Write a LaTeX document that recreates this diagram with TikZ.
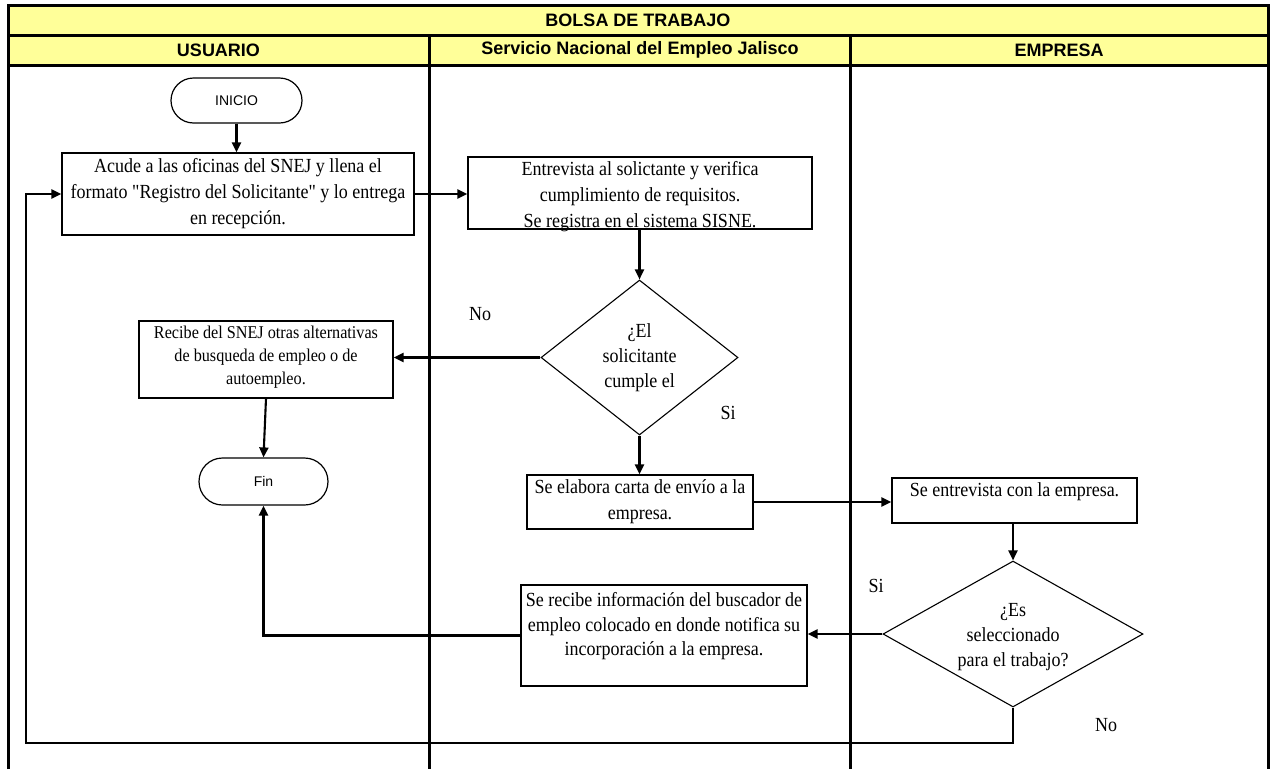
\documentclass[tikz,border=0pt]{standalone}
\usepackage{fontspec}
\usetikzlibrary{arrows.meta,shapes.geometric,shapes.misc}
\newfontfamily\tnr{Liberation Serif}[FakeStretch=0.9]
\newfontfamily\arl{Liberation Sans}
\definecolor{hdr}{HTML}{FFFF99}
\tikzset{
  frameline/.style={line width=3pt},
  boxnode/.style={draw, line width=1.2pt, rectangle, inner sep=0pt},
  termnode/.style={draw, line width=1.2pt, rounded rectangle, inner sep=0pt, font=\arl\fontsize{14}{16}\selectfont},
  decnode/.style={draw, line width=1.1pt, diamond, inner sep=0pt},
  btext/.style={align=center, inner sep=0pt, font=\tnr\fontsize{20}{26}\selectfont},
  stext/.style={align=center, inner sep=0pt, font=\tnr\fontsize{18}{23}\selectfont},
  dtext/.style={align=center, inner sep=0pt, font=\tnr\fontsize{20}{25}\selectfont},
  lbl/.style={inner sep=0pt, font=\tnr\fontsize{20}{24}\selectfont},
  htext/.style={inner sep=0pt, font=\arl\bfseries\fontsize{18}{20}\selectfont},
  arr/.style={line width=2.1pt, -{Triangle[length=10pt,width=9pt]}}
}
\begin{document}
\begin{tikzpicture}[x=1pt,y=-1pt]
\useasboundingbox (0,0) rectangle (1270,769);
% header bands
\fill[hdr] (8,5) rectangle (1268,65);
\draw[frameline] (8,769) -- (8,5) -- (1268,5) -- (1268,769);
\draw[frameline] (8,35) -- (1268,35);
\draw[frameline] (8,65) -- (1268,65);
\draw[frameline] (429,35) -- (429,769);
\draw[frameline] (850,35) -- (850,769);
\node[htext] (h0) at (638,20) {BOLSA DE TRABAJO};
\node[htext] (h1) at (218.5,50) {USUARIO};
\node[htext] (h2) at (640,50) {Servicio Nacional del Empleo Jalisco};
\node[htext] (h3) at (1059,50) {EMPRESA};

% nodes
\node[termnode, minimum width=131, minimum height=45] (ini) at (236.5,100.5) {INICIO};
\node[boxnode, minimum width=352, minimum height=82] (b1) at (238,194) {};
\node[btext] (t1) at (238,194) {Acude a las oficinas del SNEJ y llena el\\formato "Registro del Solicitante" y lo entrega\\en recepción.};
\node[boxnode, minimum width=344, minimum height=72] (b2) at (640,193) {};
\node[btext] (t2) at (640,197) {Entrevista al solictante y verifica\\cumplimiento de requisitos.\\Se registra en el sistema SISNE.};
\node[decnode, minimum width=197, minimum height=155] (d1) at (639.5,357.5) {};
\node[dtext] (td1) at (639.5,358) {¿El\\solicitante\\cumple el};
\node[boxnode, minimum width=254, minimum height=77] (b3) at (266,359.5) {};
\node[stext] (t3) at (266,357) {Recibe del SNEJ otras alternativas\\de busqueda de empleo o de\\autoempleo.};
\node[termnode, minimum width=129, minimum height=47] (fin) at (263.5,481.5) {Fin};
\node[boxnode, minimum width=226, minimum height=54] (b4) at (640,502) {};
\node[btext] (t4) at (640,502) {Se elabora carta de envío a la\\empresa.};
\node[boxnode, minimum width=245, minimum height=45] (b5) at (1014.5,500.5) {};
\node[btext] (t5) at (1014.5,492) {Se entrevista con la empresa.};
\node[decnode, minimum width=260, minimum height=146] (d2) at (1013,634) {};
\node[dtext] (td2) at (1013,637) {¿Es\\seleccionado\\para el trabajo?};
\node[boxnode, minimum width=286, minimum height=101] (b6) at (664,635.5) {};
\node[btext, font=\tnr\fontsize{20}{24.5}\selectfont] (t6) at (664,626.5) {Se recibe información del buscador de\\empleo colocado en donde notifica su\\incorporación a la empresa.};

% labels
\node[lbl] (l1) at (480,314) {No};
\node[lbl] (l2) at (728,413) {Si};
\node[lbl] (l3) at (876,586) {Si};
\node[lbl] (l4) at (1106,725) {No};

% connectors
\coordinate (lb) at (26,743);
\draw[arr] (ini.south) -- (ini.south |- b1.north);
\draw[arr] (b1.east) -- (b1.east -| b2.west);
\draw[arr] (d1.north |- b2.south) -- (d1.north);
\draw[arr] (d1.west) -- (d1.west -| b3.east);
\draw[arr] (b3.south) -- (fin.north);
\draw[arr] (d1.south) -- (d1.south |- b4.north);
\draw[arr] (b4.east) -- (b4.east -| b5.west);
\draw[arr] (b5.south -| d2.north) -- (d2.north);
\draw[arr] (d2.west) -- (d2.west -| b6.east);
\draw[arr] (b6.west) -| (fin.south);
\draw[arr] (d2.south) |- (lb) |- (b1.west);
\end{tikzpicture}
\end{document}
